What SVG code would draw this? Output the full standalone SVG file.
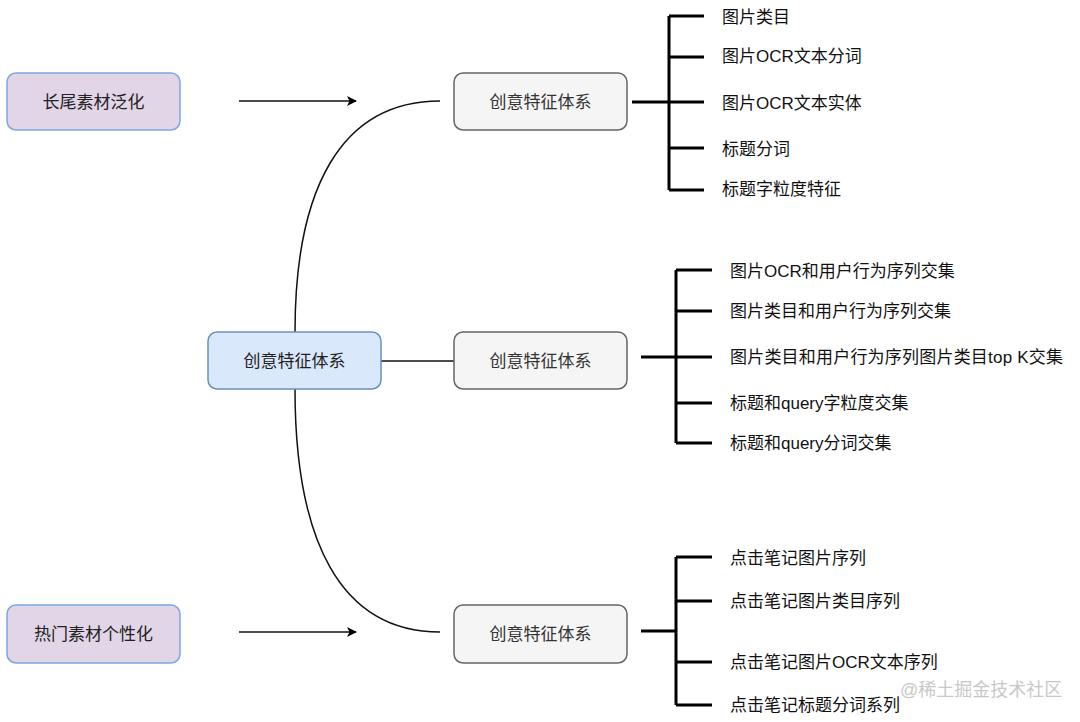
<svg xmlns="http://www.w3.org/2000/svg" width="1080" height="722" viewBox="0 0 1080 722">
<defs>
<marker id="arr" viewBox="0 0 10 10" refX="9" refY="5" markerWidth="10" markerHeight="10" markerUnits="userSpaceOnUse" orient="auto">
<path d="M0,0 L10,5 L0,10 L2.5,5 Z" fill="#000"/>
</marker>
<style>
text{font-family:"Liberation Sans","Noto Sans CJK SC",sans-serif;font-size:17px;dominant-baseline:central}
.c{text-anchor:middle}
.purple{fill:#e1d5e7;stroke:#7ea6e0;stroke-width:1.5}
.blue{fill:#dae8fc;stroke:#6c8ebf;stroke-width:1.5}
.gray{fill:#f5f5f5;stroke:#666;stroke-width:1.5}
.thin{fill:none;stroke:#111;stroke-width:1.5}
.thick{fill:none;stroke:#000;stroke-width:3}
.lbl{fill:#111}
.ntx{fill:#222}
.gtx{fill:#333}
</style>
</defs>
<rect width="1080" height="722" fill="#fff"/>
<g id="connectors">
<line class="thin" x1="239" y1="101" x2="356" y2="101" marker-end="url(#arr)"/>
<line class="thin" x1="239" y1="632" x2="356" y2="632" marker-end="url(#arr)"/>
<path class="thin" d="M295,332 C295,190 340,101 440,101"/>
<path class="thin" d="M295,389 C295,540 340,632 440,632"/>
<line class="thin" x1="381" y1="361" x2="454" y2="361"/>
<g id="bracket1">
<path class="thick" d="M632,102 H669 M669,16 V190 M669,16 H704 M669,57 H704 M669,102 H704 M669,148 H704 M669,190 H704"/>
</g>
<g id="bracket2">
<path class="thick" d="M641,357 H676 M676,270 V443 M676,270 H712 M676,311 H712 M676,357 H712 M676,403 H712 M676,443 H712"/>
</g>
<g id="bracket3">
<path class="thick" d="M641,631 H676 M676,557 V705 M676,557 H712 M676,601 H712 M676,662 H712 M676,705 H712"/>
</g>
</g>
<g id="node-longtail">
<rect class="purple" x="7" y="73" width="173" height="57" rx="9"/>
<text class="c ntx" x="93.5" y="102">长尾素材泛化</text>
</g>
<g id="node-hot">
<rect class="purple" x="7" y="605" width="173" height="58" rx="9"/>
<text class="c ntx" x="93.5" y="634">热门素材个性化</text>
</g>
<g id="node-center">
<rect class="blue" x="208" y="332" width="173" height="57" rx="9"/>
<text class="c ntx" x="294.5" y="361">创意特征体系</text>
</g>
<g id="node-r1">
<rect class="gray" x="454" y="73" width="173" height="57" rx="9"/>
<text class="c gtx" x="540.5" y="102">创意特征体系</text>
</g>
<g id="node-r2">
<rect class="gray" x="454" y="332" width="173" height="57" rx="9"/>
<text class="c gtx" x="540.5" y="361">创意特征体系</text>
</g>
<g id="node-r3">
<rect class="gray" x="454" y="605" width="173" height="58" rx="9"/>
<text class="c gtx" x="540.5" y="634">创意特征体系</text>
</g>
<g id="list1">
<text class="lbl" x="722" y="17">图片类目</text>
<text class="lbl" x="722" y="56">图片OCR文本分词</text>
<text class="lbl" x="722" y="103">图片OCR文本实体</text>
<text class="lbl" x="722" y="149">标题分词</text>
<text class="lbl" x="722" y="189">标题字粒度特征</text>
</g>
<g id="list2">
<text class="lbl" x="730" y="271">图片OCR和用户行为序列交集</text>
<text class="lbl" x="730" y="311">图片类目和用户行为序列交集</text>
<text class="lbl" x="730" y="357" textLength="333" lengthAdjust="spacing">图片类目和用户行为序列图片类目top K交集</text>
<text class="lbl" x="730" y="403">标题和query字粒度交集</text>
<text class="lbl" x="730" y="443">标题和query分词交集</text>
</g>
<g id="list3">
<text class="lbl" x="730" y="558">点击笔记图片序列</text>
<text class="lbl" x="730" y="601">点击笔记图片类目序列</text>
<text class="lbl" x="730" y="662">点击笔记图片OCR文本序列</text>
<text class="lbl" x="730" y="705">点击笔记标题分词系列</text>
</g>
<text x="900" y="690" style="fill:#c8c8c8;font-size:18px">@稀土掘金技术社区</text>
</svg>
